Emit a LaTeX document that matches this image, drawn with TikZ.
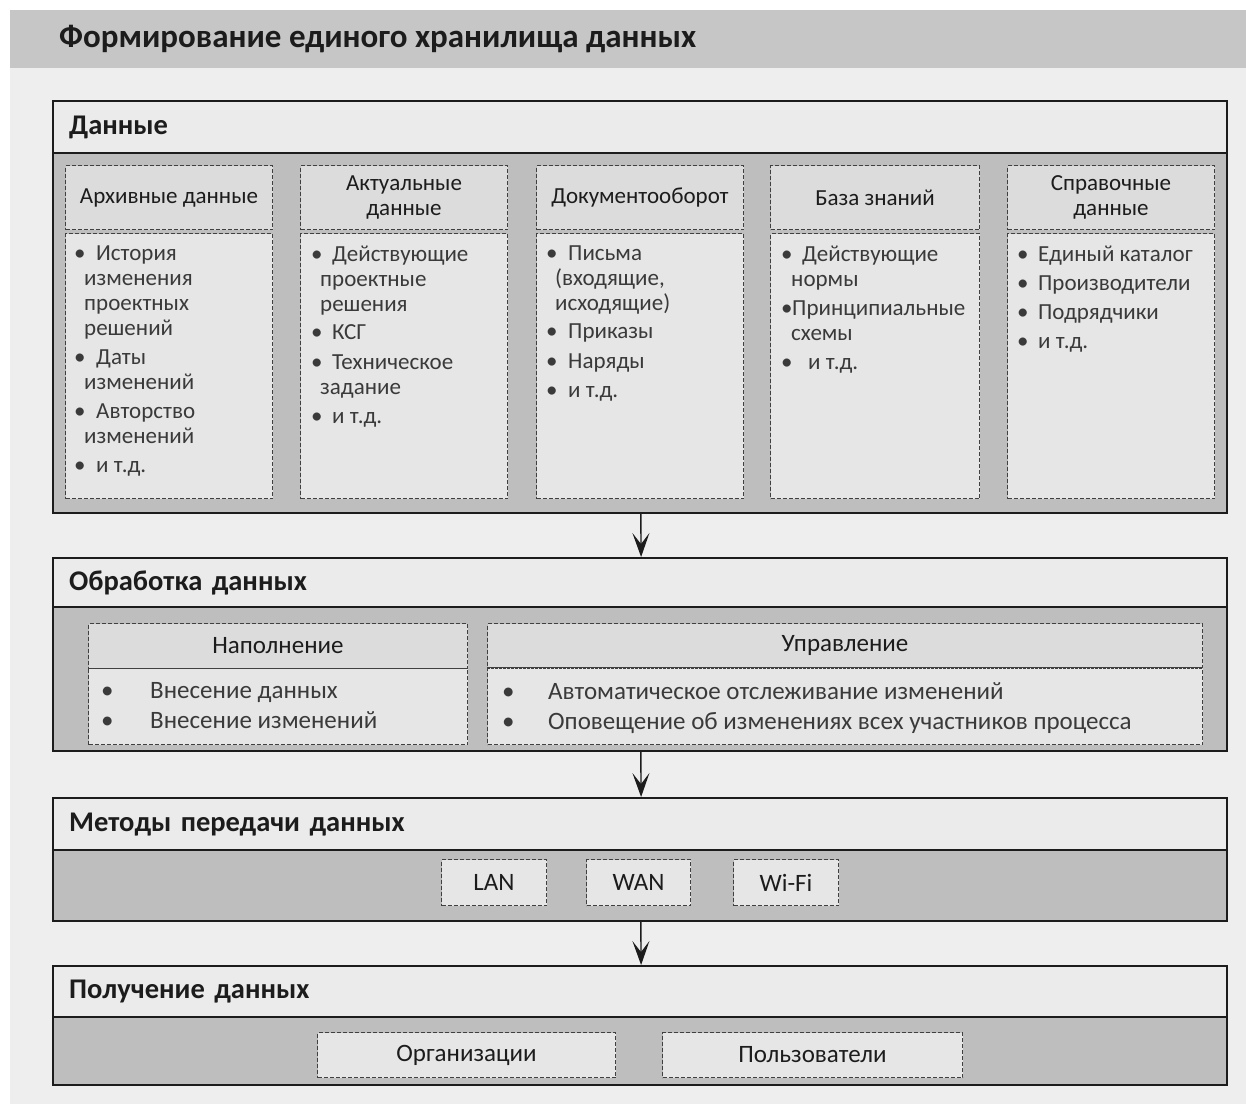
\documentclass[tikz,border=0pt]{standalone}
\usepackage{fontspec}
\setmainfont{Carlito}
\usetikzlibrary{arrows.meta}
\definecolor{pagebg}{HTML}{EEEEEE}
\definecolor{titlebg}{HTML}{C6C6C6}
\definecolor{headfill}{HTML}{EBEBEB}
\definecolor{bodyfill}{HTML}{BEBEBE}
\definecolor{chead}{HTML}{DCDCDC}
\definecolor{cbody}{HTML}{E6E6E6}
\definecolor{ink}{HTML}{1C1C1C}
\definecolor{txt}{HTML}{3A3A3A}
\tikzset{
  sechead/.style={draw=ink, line width=2.2pt, fill=headfill, anchor=north west, inner xsep=16pt, inner ysep=0pt,
    align=left, font=\fontsize{28.5}{32}\selectfont\bfseries, text=ink},
  secbody/.style={draw=ink, line width=1.6pt, fill=bodyfill, anchor=north west, inner sep=0pt},
  dbox/.style={draw=black!75, line width=1pt, dash pattern=on 4pt off 2pt, anchor=north west, inner sep=0pt,
    font=\fontsize{23}{25}\selectfont, text=ink, align=center},
  chbox/.style={dbox, fill=chead},
  cbbox/.style={dbox, fill=cbody},
  bigbox/.style={font=\fontsize{25}{28}\selectfont},
  listtext/.style={anchor=north west, inner sep=0pt, align=left, font=\fontsize{23}{25}\selectfont, text=txt},
  arr/.style={draw=ink, line width=1.4pt, -{Stealth[length=24pt,width=17pt,inset=11pt]}}
}
\begin{document}
\begin{tikzpicture}[x=1pt,y=-1pt]
\useasboundingbox (0,0) rectangle (1246,1104);
\fill[white] (0,0) rectangle (1246,1104);
\fill[pagebg] (10,10) rectangle (1246,1104);
\fill[titlebg] (10,10) rectangle (1246,68);
\node[anchor=west, inner sep=0pt, font=\fontsize{33}{38}\selectfont\bfseries, text=ink] (title) at (59,39) {Формирование единого хранилища данных};

% ---------- Section 1
\node[secbody, minimum width=1174pt, minimum height=360pt] (s1b) at (52,152) {};
\node[sechead, minimum width=1174pt, minimum height=52pt, text width=1142pt] (s1h) at (52,100) {Данные};

% col 1
\node[chbox, minimum width=207pt, minimum height=64pt] (c1h) at (65,165) {Архивные данные};
\node[cbbox, minimum width=207pt, minimum height=265pt] (c1b) at (65,233) {};
\node[listtext] (c1l) at (74,246) {\makebox[22pt][l]{•}История\\\hspace{10pt}изменения\\\hspace{10pt}проектных\\\hspace{10pt}решений\\[4pt]
\makebox[22pt][l]{•}Даты\\\hspace{10pt}изменений\\[4pt]
\makebox[22pt][l]{•}Авторство\\\hspace{10pt}изменений\\[4pt]
\makebox[22pt][l]{•}и т.д.};

% col 2
\node[chbox, minimum width=207pt, minimum height=64pt] (c2h) at (300,165) {Актуальные\\данные};
\node[cbbox, minimum width=207pt, minimum height=265pt] (c2b) at (300,233) {};
\node[listtext] (c2l) at (311,246) {\makebox[21pt][l]{•}Действующие\\\hspace{9pt}проектные\\\hspace{9pt}решения\\[3pt]
\makebox[21pt][l]{•}КСГ\\[5pt]
\makebox[21pt][l]{•}Техническое\\\hspace{9pt}задание\\[4pt]
\makebox[21pt][l]{•}и т.д.};

% col 3
\node[chbox, minimum width=207pt, minimum height=64pt] (c3h) at (536,165) {Документооборот};
\node[cbbox, minimum width=207pt, minimum height=265pt] (c3b) at (536,233) {};
\node[listtext] (c3l) at (546,246) {\makebox[22pt][l]{•}Письма\\\hspace{9pt}(входящие,\\\hspace{9pt}исходящие)\\[3pt]
\makebox[22pt][l]{•}Приказы\\[5pt]
\makebox[22pt][l]{•}Наряды\\[4pt]
\makebox[22pt][l]{•}и т.д.};

% col 4
\node[chbox, minimum width=209pt, minimum height=64pt] (c4h) at (770,165) {База знаний};
\node[cbbox, minimum width=209pt, minimum height=265pt] (c4b) at (770,233) {};
\node[listtext] (c4l) at (781,246) {\makebox[21pt][l]{•}Действующие\\\hspace{10pt}нормы\\[4pt]
\makebox[11pt][l]{•}Принципиальные\\\hspace{10pt}схемы\\[4pt]
\makebox[27pt][l]{•}и т.д.};

% col 5
\node[chbox, minimum width=207pt, minimum height=64pt] (c5h) at (1007,165) {Справочные\\данные};
\node[cbbox, minimum width=207pt, minimum height=265pt] (c5b) at (1007,233) {};
\node[listtext, font=\fontsize{23}{29}\selectfont] (c5l) at (1017,246) {\makebox[21pt][l]{•}Единый каталог\\
\makebox[21pt][l]{•}Производители\\
\makebox[21pt][l]{•}Подрядчики\\
\makebox[21pt][l]{•}и т.д.};

% ---------- Section 2
\node[secbody, minimum width=1174pt, minimum height=144pt] (s2b) at (52,606) {};
\node[sechead, minimum width=1174pt, minimum height=49pt, text width=1142pt] (s2h) at (52,557) {Обработка данных};
\node[chbox, bigbox, minimum width=379pt, minimum height=45pt] (p1h) at (88,623) {Наполнение};
\node[cbbox, minimum width=379pt, minimum height=76pt] (p1b) at (88,668) {};
\node[listtext, font=\fontsize{25}{30}\selectfont] (p1l) at (101,682) {\makebox[49pt][l]{•}Внесение данных\\\makebox[49pt][l]{•}Внесение изменений};
\node[chbox, bigbox, minimum width=715pt, minimum height=44pt] (p2h) at (487,623) {Управление};
\node[cbbox, minimum width=715pt, minimum height=77pt] (p2b) at (487,667) {};
\draw[draw=black!75, line width=2.2pt, dash pattern=on 3pt off 1pt] (p2h.south west) -- (p2h.south east);
\node[listtext, font=\fontsize{25}{30}\selectfont] (p2l) at (502,682) {\makebox[46pt][l]{•}Автоматическое отслеживание изменений\\\makebox[46pt][l]{•}Оповещение об изменениях всех участников процесса};

% ---------- Section 3
\node[secbody, minimum width=1174pt, minimum height=71pt] (s3b) at (52,849) {};
\node[sechead, minimum width=1174pt, minimum height=52pt, text width=1142pt] (s3h) at (52,797) {Методы передачи данных};
\node[cbbox, bigbox, minimum width=105pt, minimum height=46pt] (lan) at (441,859) {LAN};
\node[cbbox, bigbox, minimum width=104pt, minimum height=46pt] (wan) at (586,859) {WAN};
\node[cbbox, bigbox, minimum width=105pt, minimum height=46pt] (wifi) at (733,859) {Wi-Fi};

% ---------- Section 4
\node[secbody, minimum width=1174pt, minimum height=68pt] (s4b) at (52,1016) {};
\node[sechead, minimum width=1174pt, minimum height=51pt, text width=1142pt] (s4h) at (52,965) {Получение данных};
\node[cbbox, bigbox, minimum width=298pt, minimum height=45pt] (org) at (317,1032) {Организации};
\node[cbbox, bigbox, minimum width=300pt, minimum height=45pt] (usr) at (662,1032) {Пользователи};

% ---------- Arrows
\draw[arr] ([xshift=1pt]s1b.south) -- ([xshift=1pt]s2h.north);
\draw[arr] ([xshift=1pt]s2b.south) -- ([xshift=1pt]s3h.north);
\draw[arr] ([xshift=1pt]s3b.south) -- ([xshift=1pt]s4h.north);
\end{tikzpicture}
\end{document}
